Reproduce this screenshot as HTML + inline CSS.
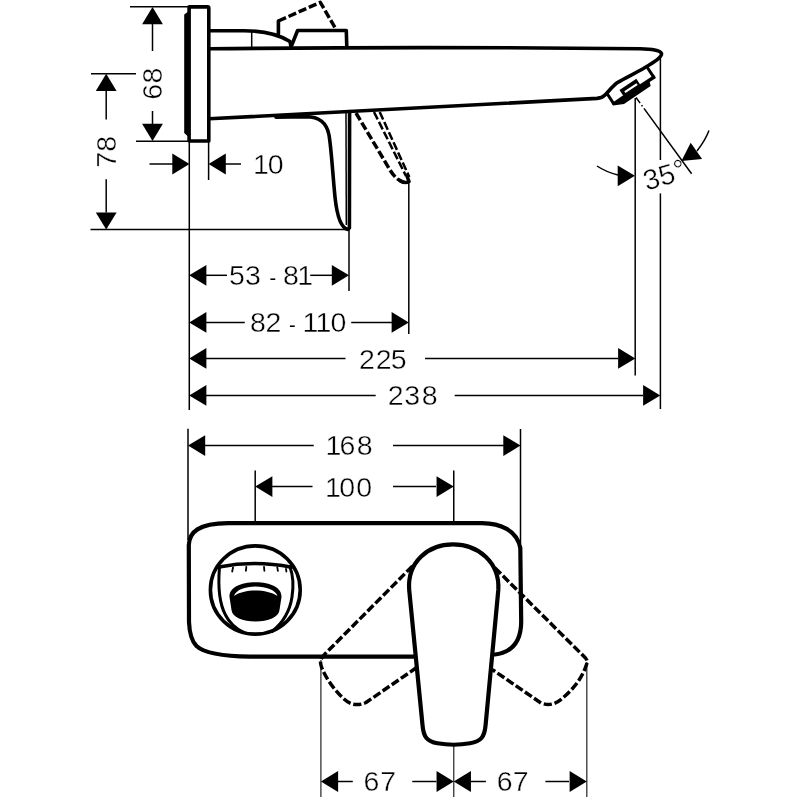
<!DOCTYPE html>
<html><head><meta charset="utf-8"><title>drawing</title>
<style>
html,body{margin:0;padding:0;background:#fff;}
svg{display:block;filter:grayscale(1);}
text{font-family:"Liberation Sans",sans-serif;font-size:28.5px;fill:#000;stroke:#fff;stroke-width:.4px;}
.thin line,.thin path{stroke:#000;stroke-width:1.5;fill:none;}
.thin .g{stroke:#333;stroke-width:1.3;}
.thick path,.thick ellipse{stroke:#000;stroke-width:3.6;fill:none;stroke-linejoin:round;stroke-linecap:round;}
.thick path.b{stroke-width:4.2;}
.med path{stroke:#000;stroke-width:3;fill:none;stroke-linecap:round;}
.dash path{stroke:#000;stroke-width:3.5;fill:none;stroke-dasharray:8.3 2.8;stroke-linejoin:round;}
</style></head><body>
<svg width="800" height="800" viewBox="0 0 800 800">
<rect width="800" height="800" fill="#fff"/>
<g class="thin">
<line x1="130" y1="6.8" x2="188" y2="6.8"/>
<line x1="91" y1="73.8" x2="136" y2="73.8"/>
<line x1="136" y1="141.2" x2="188" y2="141.2"/>
<line x1="90.5" y1="229.6" x2="347" y2="229.6"/>
<line x1="189.3" y1="142" x2="189.3" y2="410"/>
<line x1="208.6" y1="142" x2="208.6" y2="180"/>
<line x1="152.5" y1="24" x2="152.5" y2="51"/>
<line x1="152.5" y1="111" x2="152.5" y2="124"/>
<line x1="106.2" y1="91" x2="106.2" y2="119.4"/>
<line x1="106.2" y1="179.2" x2="106.2" y2="212.5"/>
<line x1="149.5" y1="164" x2="173" y2="164"/>
<line x1="225" y1="164" x2="241" y2="164"/>
<line x1="206" y1="275.3" x2="227" y2="275.3"/>
<line x1="310.2" y1="275.3" x2="332" y2="275.3"/>
<line x1="349" y1="229" x2="349" y2="291"/>
<line x1="206" y1="322.4" x2="244.8" y2="322.4"/>
<line x1="351.2" y1="322.4" x2="392" y2="322.4"/>
<line x1="408.8" y1="182" x2="408.8" y2="334"/>
<line x1="206" y1="358.4" x2="345.5" y2="358.4"/>
<line x1="425" y1="358.4" x2="618" y2="358.4"/>
<line x1="635.2" y1="98" x2="635.2" y2="375.5"/>
<line x1="206" y1="395.4" x2="375.7" y2="395.4"/>
<line x1="454.7" y1="395.4" x2="643" y2="395.4"/>
<line x1="660.4" y1="56" x2="660.4" y2="160"/>
<line x1="660.4" y1="193.4" x2="660.4" y2="409"/>
<path d="M636,97.5 L691.6,173.75" stroke-dasharray="7 2.5 1.5 2.5 200"/>
<path d="M618,175 Q606,172 597,166"/>
<path d="M697,151 Q705,141 709,130.6"/>
<line x1="188" y1="428.8" x2="188" y2="540"/>
<line x1="520.5" y1="429" x2="520.5" y2="544"/>
<line x1="205" y1="445.6" x2="313.75" y2="445.6"/>
<line x1="393" y1="445.6" x2="504" y2="445.6"/>
<line x1="255.2" y1="470.6" x2="255.2" y2="521"/>
<line x1="453.75" y1="470.6" x2="453.75" y2="521"/>
<line x1="272" y1="486.6" x2="312.5" y2="486.6"/>
<line x1="393" y1="486.6" x2="436" y2="486.6"/>
<line x1="320.9" y1="660" x2="320.9" y2="797" class="g"/>
<line x1="453.75" y1="746" x2="453.75" y2="797" class="g"/>
<line x1="586.8" y1="662" x2="586.8" y2="797" class="g"/>
<line x1="337" y1="781.5" x2="352.8" y2="781.5"/>
<line x1="412.3" y1="781.5" x2="436.5" y2="781.5"/>
<line x1="471" y1="781.5" x2="485.9" y2="781.5"/>
<line x1="545.4" y1="781.5" x2="569" y2="781.5"/>
<line x1="251.7" y1="31" x2="251.7" y2="48"/>
<line x1="346" y1="112.5" x2="346.3" y2="225"/>
</g>
<g class="arrows" fill="#000">
<polygon points="152.50,7.00 142.10,24.20 162.90,24.20"/>
<polygon points="152.50,141.00 142.10,123.80 162.90,123.80"/>
<polygon points="106.20,73.80 95.80,91.00 116.60,91.00"/>
<polygon points="106.20,229.60 95.80,212.40 116.60,212.40"/>
<polygon points="189.50,164.00 172.30,153.60 172.30,174.40"/>
<polygon points="208.60,164.00 225.80,153.60 225.80,174.40"/>
<polygon points="189.20,275.30 206.40,264.90 206.40,285.70"/>
<polygon points="349.00,275.30 331.80,264.90 331.80,285.70"/>
<polygon points="189.20,322.40 206.40,312.00 206.40,332.80"/>
<polygon points="408.80,322.40 391.60,312.00 391.60,332.80"/>
<polygon points="189.20,358.40 206.40,348.00 206.40,368.80"/>
<polygon points="635.30,358.40 618.10,348.00 618.10,368.80"/>
<polygon points="189.20,395.40 206.40,385.00 206.40,405.80"/>
<polygon points="660.30,395.40 643.10,385.00 643.10,405.80"/>
<polygon points="634.90,175.80 617.70,165.40 617.70,186.20"/>
<polygon points="681.4,161 690.7,142.75 702.1,159"/>
<polygon points="188.00,445.60 205.20,435.20 205.20,456.00"/>
<polygon points="520.50,445.60 503.30,435.20 503.30,456.00"/>
<polygon points="255.20,486.60 272.40,476.20 272.40,497.00"/>
<polygon points="453.75,486.60 436.55,476.20 436.55,497.00"/>
<polygon points="320.90,781.50 338.10,771.10 338.10,791.90"/>
<polygon points="453.75,781.50 436.55,771.10 436.55,791.90"/>
<polygon points="453.75,781.50 470.95,771.10 470.95,791.90"/>
<polygon points="586.80,781.50 569.60,771.10 569.60,791.90"/>
</g>
<g class="dash">
<path d="M278.4,21 L320.3,2.3 L335.5,28.5"/>
<path d="M356,113 L390,170 C395,178 400,182 406,183"/>
<path d="M374,112 L406,176" style="stroke-width:2.5"/>
<path d="M379.7,112 L409.3,177" style="stroke-width:2.5"/>
<path d="M412.5,566 L325,654 C320.5,658.5 319.5,661 321.5,667 C325,677 334,690 344,699 C350,704.5 357,706.5 366,702.5 L416,668"/>
<path d="M495,568 L585.5,658 C587.5,660.5 587.5,662 586,666 C582,678 574,688 565,696 C558,702.5 551,707 541,703 L492.5,669.7"/>
</g>
<g class="thick">
<path d="M189.1,6.9 H207.6 Q208.8,6.9 208.8,8.3 V141 H189.1 Z"/>
<path d="M209,48.8 Q420,46.4 640,48.8 C652,49.2 660,50 661.5,53.5 C662,57 656,61 645,67.5 C636,73 626,77.5 617.5,82.5 C613,85.5 609,91 605,95 C603,97 601,98 597,98.4 L209,118.8"/>
<path d="M209,30.8 H244 C262,30.8 279,34.7 290,41.5 L291,47"/>
<path d="M290.8,47.5 L297.6,30.5 H346.3 L346.8,47.5"/>
<path d="M278.4,34 V21"/>
<path d="M276,117.2 L306,116.6 C319,116.8 326.5,122 329,135 C331.5,150 332.5,172 335,197 C337,216 340.5,228 347.8,229.4 L349.4,228 L349.6,111.5"/>
<path d="M400,180.5 Q405,184 409,181.5 L407,176"/>
<path class="b" d="M414,656.6 H250 C225,656.3 205,654 196.5,646 C192,641.5 189.5,634 189,622 L188.8,545 C189.5,532 198,523.6 228,523.2 H482 C500,523.4 517,530 520.3,548 L521.2,622 C521,640 514,652 495,654.5"/>
<path class="b" d="M422.5,725 L409.2,590 C407,562 428,544.4 453,544.4 C478,544.4 500,562 498.3,590 L485.6,725 C484.5,737 481,741.5 470,743.3 Q453.75,746.2 437.5,743.3 C427,741.5 423.5,737 422.5,725 Z"/>
<ellipse cx="255.3" cy="590" rx="44.9" ry="44.1"/>
<path d="M219,567 Q255,560 291.5,567.3"/>
</g>
<g class="med">
<path d="M219.5,567 C218,585 219,603 225.5,615 C229.5,623 235.5,628.5 243,632"/>
<path d="M290,567 C293,575 293.5,587 292,597 C290,610 284,622 272,631.5"/>
<path d="M233,567.5 l-.8,4 M246.3,566.8 l-.4,4 M264,566.8 l.4,4 M277.3,567.3 l.6,3.5 M286,569 l.4,2.5" style="stroke-width:1.8"/>
</g>
<g class="extra">
<path d="M184.2,14.5 L187.6,12 L189.1,12 V136 L187.6,136 L184.2,133 Z" fill="#000"/>
<g transform="translate(608,95) rotate(-33.2)"><path d="M0,-1 V11 M48,-1.5 V11" stroke="#000" stroke-width="3" fill="none"/><polygon points="-1.5,9 10,8.5 49.5,8.5 49.5,12 42,12 40.6,15.8 8.5,16.3 -1.5,11.5" fill="#000"/><rect x="12.4" y="2" width="20.2" height="7" fill="#000"/><rect x="15.7" y="5.7" width="14.6" height="2.2" fill="#fff"/></g>
<path d="M229.5,597 C229,588 240,582.3 255.5,582.3 C271,582.3 282,588 281.5,597 L279.5,610 C279,617 268,621.5 255.5,621.5 C243,621.5 232,617 231.5,610 Z" fill="#000"/>
<path d="M234,596 C236,590 245,586.6 255.5,586.6 C266,586.6 275.5,590 277.5,596 C272,592.5 264,590.6 255.5,590.6 C247,590.6 239,592.5 234,596 Z" fill="#fff"/>
</g>
<g class="texts">
<text x="162.38 178.62" y="100" transform="rotate(-90 162 100)">68</text>
<text x="118.26 134.12" y="170" transform="rotate(-90 115.9 170)">78</text>
<text x="253.07 267.67" y="173.5">10</text>
<text x="228.90 244.96 268.80 269.57 284.23 282.97 297.17" y="284.9">53 <tspan font-size="20" dy="0.3" style="stroke:none">-</tspan><tspan dy="-0.3"> 81</tspan></text>
<text x="250.12 265.47 289.32 289.12 303.78 302.47 315.57 330.62" y="332">82 <tspan font-size="20" dy="0.3" style="stroke:none">-</tspan><tspan dy="-0.3"> 110</tspan></text>
<text x="358.97 375.82 390.85" y="368.5">225</text>
<text x="387.67 404.36 421.77" y="405">238</text>
<text x="325.57 339.48 356.77" y="455">168</text>
<text x="324.97 339.27 356.17" y="497">100</text>
<text x="363.53 380.16" y="791.3">67</text>
<text x="496.78 512.86" y="791.3">67</text>
<text x="646.6" y="190.7" transform="rotate(-16 646.6 190.7)">35<tspan dy="-1.5">°</tspan></text>
</g>
</svg>
</body></html>
